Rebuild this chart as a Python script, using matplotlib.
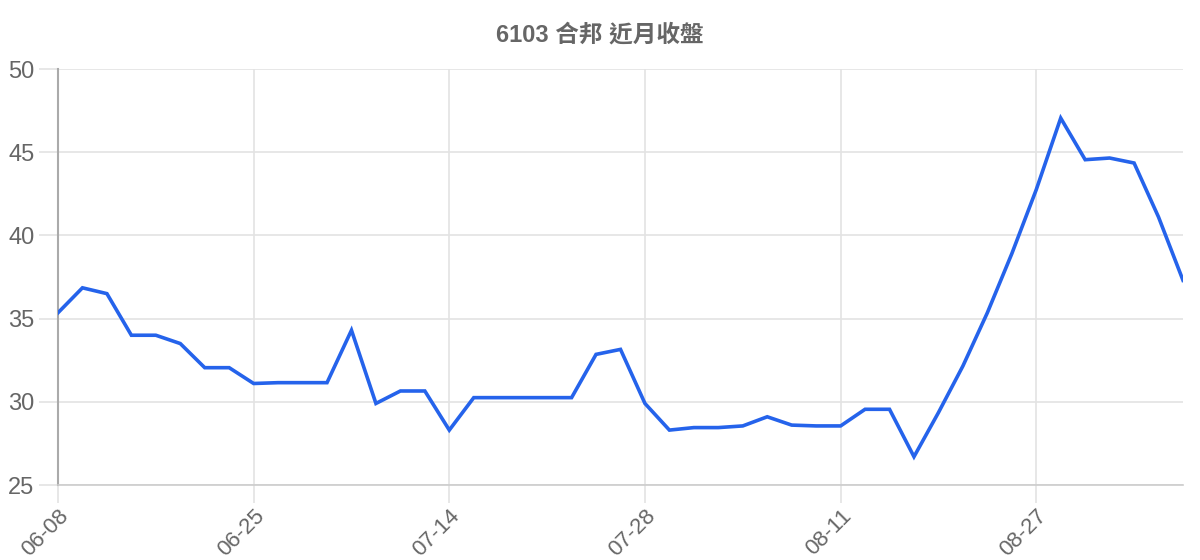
import numpy as np
import matplotlib
matplotlib.use('Agg')
import matplotlib.pyplot as plt

plt.rcParams['font.family'] = ['Liberation Sans', 'Noto Sans CJK TC', 'DejaVu Sans']

title = '6103 合邦 近月收盤'

# closing prices, one per trading day
close = [35.35, 36.85, 36.5, 34.0, 34.0, 33.5, 32.05, 32.05, 31.1, 31.15,
         31.15, 31.15, 34.3, 29.9, 30.65, 30.65, 28.3, 30.25, 30.25, 30.25,
         30.25, 30.25, 32.85, 33.15, 29.9, 28.3, 28.45, 28.45, 28.55, 29.1,
         28.6, 28.55, 28.55, 29.55, 29.55, 26.7, 29.35, 32.15, 35.35, 38.9,
         42.75, 47.05, 44.55, 44.65, 44.35, 41.1, 37.3]

tick_pos = [0, 8, 16, 24, 32, 40]
tick_labels = ['06-08', '06-25', '07-14', '07-28', '08-11', '08-27']
y_ticks = [25, 30, 35, 40, 45, 50]

fig = plt.figure(figsize=(12, 5.6), dpi=100)
ax = fig.add_axes([58/1200, 1 - 485/560, (1183 - 58)/1200, (485 - 69)/560])

x = np.arange(len(close))
ax.plot(x, close, color='#2563EB', linewidth=2.6, solid_joinstyle='miter', zorder=3)

ax.set_xlim(0, len(close) - 1)
ax.set_ylim(25, 50)
ax.set_xticks(tick_pos)
ax.set_xticklabels(tick_labels, rotation=45, ha='right', rotation_mode='anchor')
ax.set_yticks(y_ticks)

ax.grid(True, color='#e3e3e3', linewidth=1.2)
ax.set_axisbelow(True)
for s in ['top', 'right']:
    ax.spines[s].set_visible(False)
ax.spines['left'].set_color('#aaaaaa')
ax.spines['left'].set_linewidth(1.5)
ax.spines['bottom'].set_color('#cccccc')
ax.spines['bottom'].set_linewidth(1.2)

ax.tick_params(axis='y', length=14, width=1.2, color='#e3e3e3', labelsize=17,
               labelcolor='#666666', pad=3)
ax.tick_params(axis='x', length=13, width=1.2, color='#e3e3e3', labelsize=16,
               labelcolor='#666666', pad=2)

fig.text(0.5, 1 - 35/560, title, ha='center', va='center', fontsize=17,
         fontweight='bold', color='#666666')

fig.savefig('out.png', dpi=100)
